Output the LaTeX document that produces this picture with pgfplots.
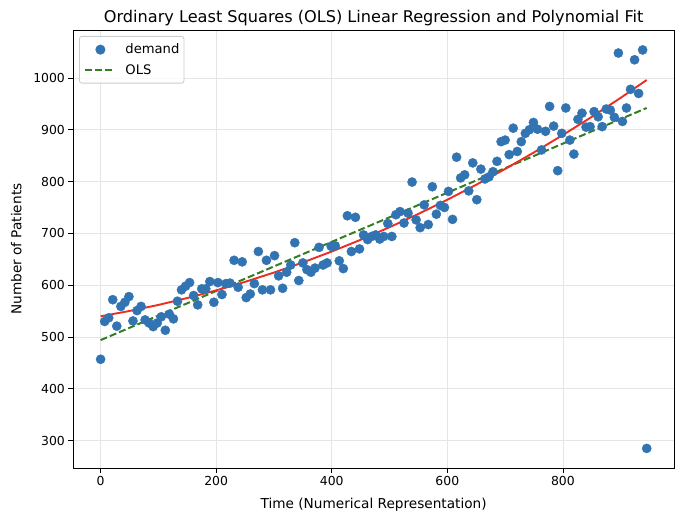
\documentclass[border=0pt]{standalone}
\usepackage{pgfplots}
\pgfplotsset{compat=1.18}
\usepackage{pgfplotstable}
\usepackage{fontspec}
\setmainfont{DejaVu Sans}
\definecolor{ptblue}{RGB}{50,116,178}
\definecolor{olsgreen}{RGB}{52,125,35}
\definecolor{polyred}{RGB}{235,45,35}

\pgfplotsset{
  scatleg/.style={legend image code/.code={\path (0bp,0bp) (29bp,0bp); \draw[##1, only marks, opacity=1] plot coordinates {(15.5bp,0bp)};}},
  lineleg/.style={legend image code/.code={\draw[##1, opacity=1] (0bp,0bp) -- (29bp,0bp);}},
}

\pgfplotstableread{
x y
0 457
7 530
14 537
21 572
28 521
35 559
42 567
49 578
56 531
63 551
70 559
77 533
84 527
91 520
98 527
105 539
112 513
119 544
126 535
133 569
140 591
147 598
154 605
161 580
168 562
175 593
182 593
189 607
196 567
203 605
210 582
217 603
224 604
231 648
238 596
245 645
252 576
259 583
266 603
273 665
280 591
287 648
294 591
301 657
308 618
315 594
322 625
329 639
336 682
343 609
350 643
357 630
364 625
371 633
378 673
385 639
392 643
399 675
406 676
413 647
420 632
427 734
434 665
441 731
448 670
455 697
462 688
469 694
476 697
483 689
490 694
497 719
504 694
511 736
518 742
525 720
532 739
539 799
546 726
553 711
560 755
567 717
574 790
581 737
588 754
595 750
602 781
609 727
616 847
623 807
630 813
637 782
644 836
651 765
658 824
665 805
672 809
679 819
686 839
693 877
700 880
707 852
714 903
721 858
728 877
735 893
742 900
749 914
756 901
763 861
770 897
777 945
784 907
791 821
798 893
805 942
812 880
819 853
826 920
833 932
840 905
847 906
854 935
861 925
868 906
875 940
882 938
889 924
896 1048
903 916
910 942
917 978
924 1035
931 970
938 1054
945 285
}\demand

\pgfplotstableread{
x y
0 540
50 550.2
100 561.9
150 575.2
200 590.0
250 606.4
300 624.4
350 643.9
400 665.0
450 687.6
500 711.9
550 737.6
600 764.9
650 793.8
700 824.3
750 856.3
800 889.9
850 924.9
900 961.6
945 996.0
}\poly

\begin{document}
\begin{tikzpicture}
\useasboundingbox (-73.3bp,-53.7bp) rectangle (612.7bp,468.3bp);
\begin{axis}[
  at={(0,0)}, anchor=south west,
  scale only axis, width=600.7bp, height=438.3bp,
  xmin=-47.25, xmax=992.25, ymin=246.6, ymax=1092.5,
  xtick={0,200,...,800}, ytick={300,400,...,1000},
  xtick pos=bottom, ytick pos=left,
  grid=major, grid style={color=black!10, line width=0.8bp},
  axis line style={line width=0.8bp},
  tick style={black, line width=0.8bp},
  tick align=outside, major tick length=4.9bp,
  ticklabel style={font=\fontsize{12.45}{14}\selectfont},
  /pgf/number format/assume math mode=true,
  /pgf/number format/1000 sep={},
  title={Ordinary Least Squares (OLS) Linear Regression and Polynomial Fit},
  title style={font=\fontsize{16.2}{19}\selectfont, at={(axis description cs:0.5,1)}, anchor=base, yshift=2bp},
  xlabel={Time (Numerical Representation)},
  xlabel style={font=\fontsize{13.7}{16}\selectfont, at={(axis description cs:0.5,0)}, anchor=base, yshift=-39.7bp},
  ylabel={Number of Patients},
  ylabel style={font=\fontsize{13.7}{16}\selectfont, at={(axis description cs:-0.0866,0.5)}, anchor=base},
  legend style={at={(axis description cs:0.0095,0.9863)}, anchor=north west,
    draw=black!20, rounded corners=2.5bp, fill=white, fill opacity=0.8, text opacity=1,
    font=\fontsize{13.2}{15}\selectfont, inner xsep=4.5bp, inner ysep=7.5bp,
    nodes={inner sep=0pt, anchor=west}, column sep=10.5bp, row sep=9bp, line width=0.8bp},
  legend cell align=left,
]
\addplot[only marks, mark=*, mark size=4.6bp, color=ptblue, mark options={draw=ptblue, fill=ptblue}, scatleg]
  table[x=x, y=y] {\demand};
\addlegendentry{demand}
\addplot[olsgreen, line width=2bp, dash pattern=on 7bp off 3bp, lineleg]
  coordinates {(0,494) (945,942)};
\addlegendentry{OLS}
\addplot[polyred, line width=1.9bp, forget plot] table[x=x, y=y] {\poly};
\end{axis}
\end{tikzpicture}
\end{document}
